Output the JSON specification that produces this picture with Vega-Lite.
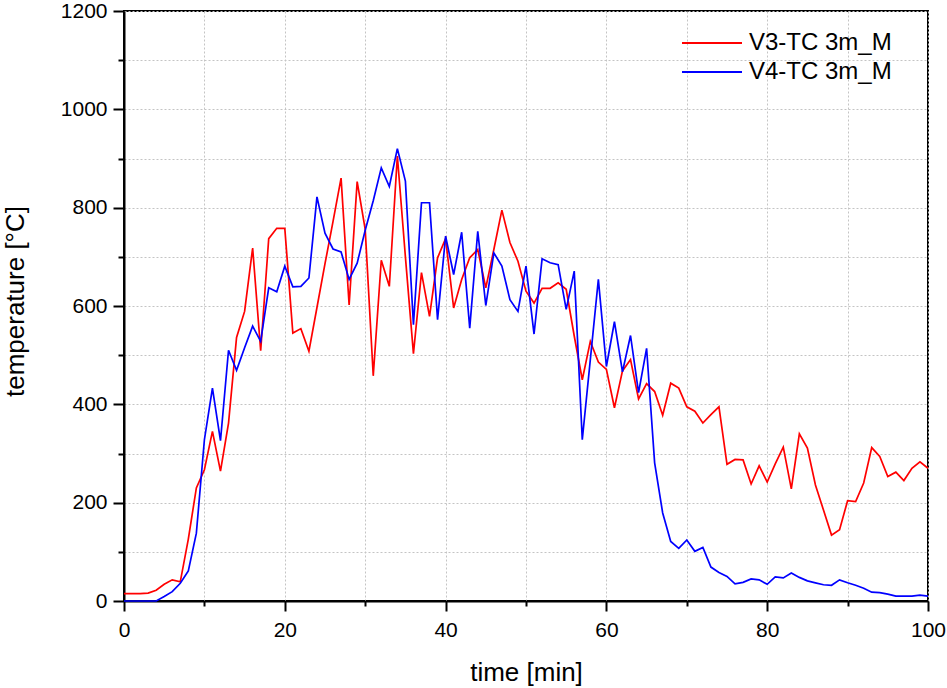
{
  "$schema": "https://vega.github.io/schema/vega-lite/v6.json",
  "width": 804,
  "height": 590,
  "autosize": "none",
  "padding": {"left": 124, "top": 11, "right": 19, "bottom": 87},
  "background": "white",
  "config": {
    "font": "Liberation Sans",
    "view": {"stroke": "black", "strokeWidth": 2},
    "axis": {
      "domainColor": "black",
      "domainWidth": 2,
      "tickColor": "black",
      "tickWidth": 2,
      "gridColor": "#c4c4c4",
      "gridDash": [2, 2],
      "gridWidth": 1,
      "labelColor": "black",
      "titleColor": "black",
      "labelFont": "Liberation Sans",
      "titleFont": "Liberation Sans",
      "labelFontSize": 21,
      "titleFontSize": 26,
      "titleFontWeight": "normal"
    }
  },
  "data": {
    "values": [
      {"t":0,"V3-TC 3m_M":15,"V4-TC 3m_M":0},
      {"t":1,"V3-TC 3m_M":15,"V4-TC 3m_M":0},
      {"t":2,"V3-TC 3m_M":15,"V4-TC 3m_M":0},
      {"t":3,"V3-TC 3m_M":16,"V4-TC 3m_M":0},
      {"t":4,"V3-TC 3m_M":22,"V4-TC 3m_M":0},
      {"t":5,"V3-TC 3m_M":34,"V4-TC 3m_M":9},
      {"t":6,"V3-TC 3m_M":43,"V4-TC 3m_M":19},
      {"t":7,"V3-TC 3m_M":39,"V4-TC 3m_M":36},
      {"t":8,"V3-TC 3m_M":126,"V4-TC 3m_M":61},
      {"t":9,"V3-TC 3m_M":230,"V4-TC 3m_M":138},
      {"t":10,"V3-TC 3m_M":267,"V4-TC 3m_M":328},
      {"t":11,"V3-TC 3m_M":345,"V4-TC 3m_M":433},
      {"t":12,"V3-TC 3m_M":264,"V4-TC 3m_M":326},
      {"t":13,"V3-TC 3m_M":362,"V4-TC 3m_M":510},
      {"t":14,"V3-TC 3m_M":536,"V4-TC 3m_M":469},
      {"t":15,"V3-TC 3m_M":589,"V4-TC 3m_M":515},
      {"t":16,"V3-TC 3m_M":718,"V4-TC 3m_M":559},
      {"t":17,"V3-TC 3m_M":509,"V4-TC 3m_M":528},
      {"t":18,"V3-TC 3m_M":737,"V4-TC 3m_M":637},
      {"t":19,"V3-TC 3m_M":758,"V4-TC 3m_M":629},
      {"t":20,"V3-TC 3m_M":758,"V4-TC 3m_M":681},
      {"t":21,"V3-TC 3m_M":545,"V4-TC 3m_M":639},
      {"t":22,"V3-TC 3m_M":554,"V4-TC 3m_M":640},
      {"t":23,"V3-TC 3m_M":508,"V4-TC 3m_M":657},
      {"t":24,"V3-TC 3m_M":597,"V4-TC 3m_M":822},
      {"t":25,"V3-TC 3m_M":686,"V4-TC 3m_M":748},
      {"t":26,"V3-TC 3m_M":772,"V4-TC 3m_M":716},
      {"t":27,"V3-TC 3m_M":860,"V4-TC 3m_M":710},
      {"t":28,"V3-TC 3m_M":602,"V4-TC 3m_M":654},
      {"t":29,"V3-TC 3m_M":853,"V4-TC 3m_M":687},
      {"t":30,"V3-TC 3m_M":756,"V4-TC 3m_M":754},
      {"t":31,"V3-TC 3m_M":458,"V4-TC 3m_M":814},
      {"t":32,"V3-TC 3m_M":693,"V4-TC 3m_M":881},
      {"t":33,"V3-TC 3m_M":640,"V4-TC 3m_M":843},
      {"t":34,"V3-TC 3m_M":905,"V4-TC 3m_M":920},
      {"t":35,"V3-TC 3m_M":700,"V4-TC 3m_M":854},
      {"t":36,"V3-TC 3m_M":503,"V4-TC 3m_M":562},
      {"t":37,"V3-TC 3m_M":668,"V4-TC 3m_M":810},
      {"t":38,"V3-TC 3m_M":579,"V4-TC 3m_M":810},
      {"t":39,"V3-TC 3m_M":698,"V4-TC 3m_M":572},
      {"t":40,"V3-TC 3m_M":737,"V4-TC 3m_M":742},
      {"t":41,"V3-TC 3m_M":596,"V4-TC 3m_M":664},
      {"t":42,"V3-TC 3m_M":654,"V4-TC 3m_M":750},
      {"t":43,"V3-TC 3m_M":698,"V4-TC 3m_M":555},
      {"t":44,"V3-TC 3m_M":715,"V4-TC 3m_M":752},
      {"t":45,"V3-TC 3m_M":637,"V4-TC 3m_M":601},
      {"t":46,"V3-TC 3m_M":715,"V4-TC 3m_M":708},
      {"t":47,"V3-TC 3m_M":795,"V4-TC 3m_M":681},
      {"t":48,"V3-TC 3m_M":729,"V4-TC 3m_M":613},
      {"t":49,"V3-TC 3m_M":691,"V4-TC 3m_M":589},
      {"t":50,"V3-TC 3m_M":630,"V4-TC 3m_M":681},
      {"t":51,"V3-TC 3m_M":606,"V4-TC 3m_M":543},
      {"t":52,"V3-TC 3m_M":636,"V4-TC 3m_M":696},
      {"t":53,"V3-TC 3m_M":636,"V4-TC 3m_M":688},
      {"t":54,"V3-TC 3m_M":647,"V4-TC 3m_M":684},
      {"t":55,"V3-TC 3m_M":634,"V4-TC 3m_M":593},
      {"t":56,"V3-TC 3m_M":539,"V4-TC 3m_M":671},
      {"t":57,"V3-TC 3m_M":450,"V4-TC 3m_M":328},
      {"t":58,"V3-TC 3m_M":528,"V4-TC 3m_M":491},
      {"t":59,"V3-TC 3m_M":486,"V4-TC 3m_M":654},
      {"t":60,"V3-TC 3m_M":471,"V4-TC 3m_M":477},
      {"t":61,"V3-TC 3m_M":393,"V4-TC 3m_M":568},
      {"t":62,"V3-TC 3m_M":468,"V4-TC 3m_M":466},
      {"t":63,"V3-TC 3m_M":491,"V4-TC 3m_M":540},
      {"t":64,"V3-TC 3m_M":411,"V4-TC 3m_M":424},
      {"t":65,"V3-TC 3m_M":442,"V4-TC 3m_M":514},
      {"t":66,"V3-TC 3m_M":426,"V4-TC 3m_M":281},
      {"t":67,"V3-TC 3m_M":378,"V4-TC 3m_M":179},
      {"t":68,"V3-TC 3m_M":443,"V4-TC 3m_M":121},
      {"t":69,"V3-TC 3m_M":433,"V4-TC 3m_M":107},
      {"t":70,"V3-TC 3m_M":395,"V4-TC 3m_M":124},
      {"t":71,"V3-TC 3m_M":386,"V4-TC 3m_M":101},
      {"t":72,"V3-TC 3m_M":362,"V4-TC 3m_M":109},
      {"t":73,"V3-TC 3m_M":379,"V4-TC 3m_M":69},
      {"t":74,"V3-TC 3m_M":395,"V4-TC 3m_M":58},
      {"t":75,"V3-TC 3m_M":278,"V4-TC 3m_M":50},
      {"t":76,"V3-TC 3m_M":288,"V4-TC 3m_M":35},
      {"t":77,"V3-TC 3m_M":287,"V4-TC 3m_M":38},
      {"t":78,"V3-TC 3m_M":238,"V4-TC 3m_M":45},
      {"t":79,"V3-TC 3m_M":275,"V4-TC 3m_M":43},
      {"t":80,"V3-TC 3m_M":242,"V4-TC 3m_M":34},
      {"t":81,"V3-TC 3m_M":279,"V4-TC 3m_M":49},
      {"t":82,"V3-TC 3m_M":313,"V4-TC 3m_M":47},
      {"t":83,"V3-TC 3m_M":228,"V4-TC 3m_M":57},
      {"t":84,"V3-TC 3m_M":340,"V4-TC 3m_M":48},
      {"t":85,"V3-TC 3m_M":311,"V4-TC 3m_M":41},
      {"t":86,"V3-TC 3m_M":236,"V4-TC 3m_M":37},
      {"t":87,"V3-TC 3m_M":185,"V4-TC 3m_M":33},
      {"t":88,"V3-TC 3m_M":134,"V4-TC 3m_M":32},
      {"t":89,"V3-TC 3m_M":145,"V4-TC 3m_M":43},
      {"t":90,"V3-TC 3m_M":204,"V4-TC 3m_M":37},
      {"t":91,"V3-TC 3m_M":202,"V4-TC 3m_M":32},
      {"t":92,"V3-TC 3m_M":240,"V4-TC 3m_M":26},
      {"t":93,"V3-TC 3m_M":312,"V4-TC 3m_M":18},
      {"t":94,"V3-TC 3m_M":294,"V4-TC 3m_M":17},
      {"t":95,"V3-TC 3m_M":253,"V4-TC 3m_M":14},
      {"t":96,"V3-TC 3m_M":262,"V4-TC 3m_M":10},
      {"t":97,"V3-TC 3m_M":245,"V4-TC 3m_M":10},
      {"t":98,"V3-TC 3m_M":270,"V4-TC 3m_M":10},
      {"t":99,"V3-TC 3m_M":283,"V4-TC 3m_M":12},
      {"t":100,"V3-TC 3m_M":270,"V4-TC 3m_M":10}
    ]
  },
  "transform": [
    {"fold": ["V3-TC 3m_M", "V4-TC 3m_M"], "as": ["series", "temperature"]}
  ],
  "mark": {"type": "line", "strokeWidth": 1.7, "interpolate": "linear"},
  "encoding": {
    "x": {
      "field": "t",
      "type": "quantitative",
      "scale": {"domain": [0, 100], "nice": false, "zero": false},
      "axis": {
        "title": "time [min]",
        "values": [0,10,20,30,40,50,60,70,80,90,100],
        "labelExpr": "datum.value % 20 === 0 ? datum.label : ''",
        "tickSize": {"condition": {"test": "datum.value % 20 === 0", "value": 10}, "value": 5},
        "labelPadding": 8,
        "labelFlush": false,
        "labelOverlap": false,
        "titleX": 402,
        "titleY": 79,
        "titleBaseline": "alphabetic",
        "titleAlign": "center"
      }
    },
    "y": {
      "field": "temperature",
      "type": "quantitative",
      "scale": {"domain": [0, 1200], "nice": false},
      "axis": {
        "title": "temperature [°C]",
        "values": [0,100,200,300,400,500,600,700,800,900,1000,1100,1200],
        "labelExpr": "datum.value % 200 === 0 ? datum.label : ''",
        "tickSize": {"condition": {"test": "datum.value % 200 === 0", "value": 11}, "value": 6},
        "labelPadding": 6,
        "labelFlush": false,
        "labelOverlap": false,
        "format": "d",
        "titleX": -101,
        "titleY": 290,
        "titleAngle": -90,
        "titleBaseline": "alphabetic",
        "titleAlign": "center"
      }
    },
    "color": {
      "field": "series",
      "type": "nominal",
      "scale": {"domain": ["V3-TC 3m_M", "V4-TC 3m_M"], "range": ["#ff0000", "#0000ff"]},
      "legend": {
        "title": null,
        "orient": "none",
        "legendX": 572,
        "legendY": 16,
        "symbolType": "M-2,0H2",
        "symbolSize": 900,
        "symbolStrokeWidth": 2,
        "symbolFillColor": "transparent",
        "labelFontSize": 24,
        "labelFont": "Liberation Sans",
        "labelColor": "black",
        "labelOffset": 21,
        "rowPadding": 1,
        "padding": 0
      }
    }
  }
}
